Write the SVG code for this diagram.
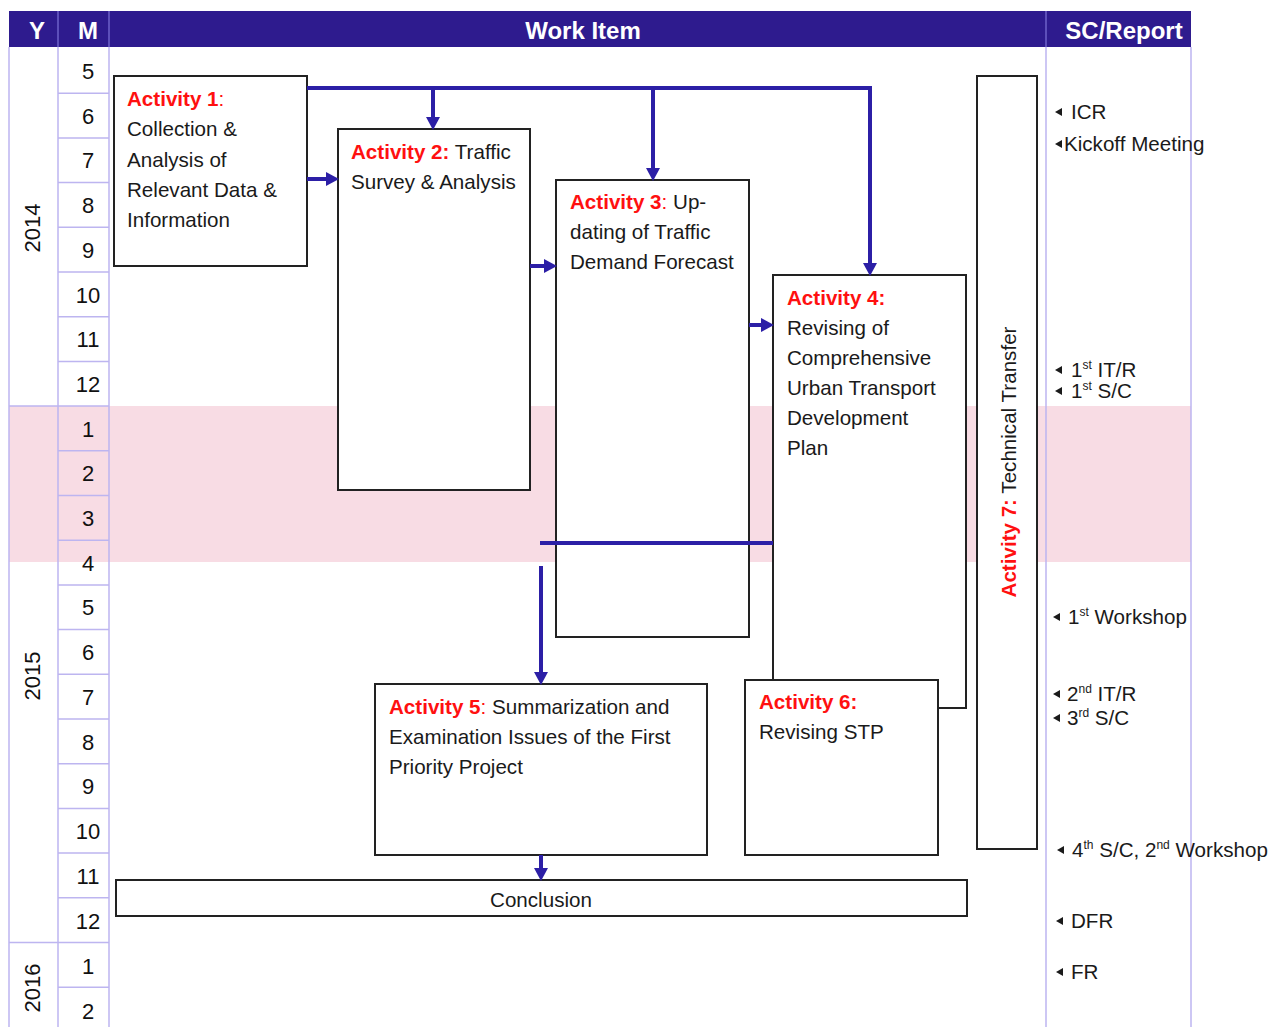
<svg xmlns="http://www.w3.org/2000/svg" width="1273" height="1027" viewBox="0 0 1273 1027">
<defs>
<style>
text{font-family:"Liberation Sans",Arial,sans-serif;}
.hd{fill:#fff;font-weight:bold;font-size:24px;text-anchor:middle;}
.mo{font-size:22px;fill:#111;text-anchor:middle;}
.yr{font-size:22px;fill:#111;text-anchor:middle;}
.grid{stroke:#BDB5F0;stroke-width:1.5;fill:none;}
.box{fill:#fff;stroke:#222;stroke-width:2;}
.t{font-size:20.6px;fill:#1a1a1a;}
.r{fill:#FF1010;font-weight:bold;}
.lab{font-size:20.6px;fill:#1a1a1a;}
.sup{font-size:12px;}
.tri{fill:#1a1a1a;}
.con{stroke:#2C1FA6;stroke-width:4;fill:none;}
</style>
<marker id="ah" markerUnits="userSpaceOnUse" markerWidth="14" markerHeight="16" refX="0" refY="8" orient="auto" viewBox="0 0 14 16">
<path d="M0,1 L13,8 L0,15 Z" fill="#2C1FA6"/>
</marker>
</defs>
<rect x="0" y="0" width="1273" height="1027" fill="#fff"/>
<!-- pink band -->
<rect x="9" y="406" width="1182" height="156" fill="#F8DCE4"/>
<!-- header -->
<g id="header">
<rect x="9" y="11" width="1182" height="36" fill="#2E1B8E"/>
<line x1="58" y1="11" x2="58" y2="47" stroke="#6E62C8" stroke-width="1.5"/>
<line x1="109" y1="11" x2="109" y2="47" stroke="#6E62C8" stroke-width="1.5"/>
<line x1="1046" y1="11" x2="1046" y2="47" stroke="#6E62C8" stroke-width="1.5"/>
<text class="hd" x="37" y="39">Y</text>
<text class="hd" x="88" y="39">M</text>
<text class="hd" x="583" y="39">Work Item</text>
<text class="hd" x="1124" y="39">SC/Report</text>
</g>
<!-- grid -->
<g id="grid" class="grid">
<line x1="9" y1="47" x2="9" y2="1027"/>
<line x1="58" y1="47" x2="58" y2="1027"/>
<line x1="109" y1="47" x2="109" y2="1027"/>
<line x1="1046" y1="47" x2="1046" y2="1027"/>
<line x1="1191" y1="47" x2="1191" y2="1027"/>
<line x1="9" y1="406" x2="109" y2="406"/>
<line x1="9" y1="942.5" x2="109" y2="942.5"/>
<path d="M58,93.2H109M58,137.9H109M58,182.6H109M58,227.3H109M58,272H109M58,316.7H109M58,361.4H109M58,450.8H109M58,495.5H109M58,540.2H109M58,584.9H109M58,629.6H109M58,674.3H109M58,719H109M58,763.7H109M58,808.4H109M58,853.1H109M58,897.8H109M58,987.2H109"/>
</g>
<g id="months">
<text class="mo" x="88" y="79">5</text>
<text class="mo" x="88" y="124">6</text>
<text class="mo" x="88" y="168">7</text>
<text class="mo" x="88" y="213">8</text>
<text class="mo" x="88" y="258">9</text>
<text class="mo" x="88" y="303">10</text>
<text class="mo" x="88" y="347">11</text>
<text class="mo" x="88" y="392">12</text>
<text class="mo" x="88" y="437">1</text>
<text class="mo" x="88" y="481">2</text>
<text class="mo" x="88" y="526">3</text>
<text class="mo" x="88" y="571">4</text>
<text class="mo" x="88" y="615">5</text>
<text class="mo" x="88" y="660">6</text>
<text class="mo" x="88" y="705">7</text>
<text class="mo" x="88" y="750">8</text>
<text class="mo" x="88" y="794">9</text>
<text class="mo" x="88" y="839">10</text>
<text class="mo" x="88" y="884">11</text>
<text class="mo" x="88" y="929">12</text>
<text class="mo" x="88" y="974">1</text>
<text class="mo" x="88" y="1019">2</text>
</g>
<g id="years">
<text class="yr" transform="translate(40,228) rotate(-90)">2014</text>
<text class="yr" transform="translate(40,676) rotate(-90)">2015</text>
<text class="yr" transform="translate(40,988) rotate(-90)">2016</text>
</g>
<!-- nodes -->
<g id="activity7">
<rect class="box" x="977" y="76" width="60" height="773"/>
<text class="t" text-anchor="middle" transform="translate(1016,462) rotate(-90)"><tspan class="r">Activity 7:</tspan> Technical Transfer</text>
</g>
<g id="activity1">
<rect class="box" x="114" y="76" width="193" height="190"/>
<text class="t" x="127" y="106"><tspan class="r">Activity 1</tspan><tspan fill="#FF1010">:</tspan></text>
<text class="t" x="127" y="136">Collection &amp;</text>
<text class="t" x="127" y="167">Analysis of</text>
<text class="t" x="127" y="197">Relevant Data &amp;</text>
<text class="t" x="127" y="227">Information</text>
</g>
<g id="activity2">
<rect class="box" x="338" y="129" width="192" height="361"/>
<text class="t" x="351" y="159"><tspan class="r">Activity 2:</tspan> Traffic</text>
<text class="t" x="351" y="189">Survey &amp; Analysis</text>
</g>
<g id="activity3">
<rect class="box" x="556" y="180" width="193" height="457"/>
<text class="t" x="570" y="209"><tspan class="r">Activity 3</tspan><tspan fill="#FF1010">:</tspan> Up-</text>
<text class="t" x="570" y="239">dating of Traffic</text>
<text class="t" x="570" y="269">Demand Forecast</text>
</g>
<g id="activity4">
<rect class="box" x="773" y="275" width="193" height="433"/>
<text class="t" x="787" y="305"><tspan class="r">Activity 4:</tspan></text>
<text class="t" x="787" y="335">Revising of</text>
<text class="t" x="787" y="365">Comprehensive</text>
<text class="t" x="787" y="395">Urban Transport</text>
<text class="t" x="787" y="425">Development</text>
<text class="t" x="787" y="455">Plan</text>
</g>
<g id="activity6">
<rect class="box" x="745" y="680" width="193" height="175"/>
<text class="t" x="759" y="709"><tspan class="r">Activity 6:</tspan></text>
<text class="t" x="759" y="739">Revising STP</text>
</g>
<g id="activity5">
<rect class="box" x="375" y="684" width="332" height="171"/>
<text class="t" x="389" y="714"><tspan class="r">Activity 5</tspan><tspan fill="#FF1010">:</tspan> Summarization and</text>
<text class="t" x="389" y="744">Examination Issues of the First</text>
<text class="t" x="389" y="774">Priority Project</text>
</g>
<g id="conclusion">
<rect class="box" x="116" y="880" width="851" height="36"/>
<text class="t" x="541" y="907" text-anchor="middle">Conclusion</text>
</g>
<!-- connectors -->
<g id="connectors">
<path class="con" d="M307,88 H870 V263" marker-end="url(#ah)"/>
<path class="con" d="M433,88 V117" marker-end="url(#ah)"/>
<path class="con" d="M653,88 V168" marker-end="url(#ah)"/>
<path class="con" d="M307,179 H326" marker-end="url(#ah)"/>
<path class="con" d="M530,266 H544" marker-end="url(#ah)"/>
<path class="con" d="M749,325 H761" marker-end="url(#ah)"/>
<path class="con" d="M540,543 H773"/>
<path class="con" d="M541,566 V672" marker-end="url(#ah)"/>
<path class="con" d="M541,855 V868" marker-end="url(#ah)"/>
</g>
<!-- SC / Report -->
<g id="reports">
<path class="tri" d="M1062,108 L1055,112 L1062,116 Z"/>
<text class="lab" x="1071" y="119">ICR</text>
<path class="tri" d="M1062,140 L1055,144 L1062,148 Z"/>
<text class="lab" x="1064" y="151">Kickoff Meeting</text>
<path class="tri" d="M1062,366 L1055,370 L1062,374 Z"/>
<text class="lab" x="1071" y="377">1<tspan class="sup" dy="-8">st</tspan><tspan dy="8"> IT/R</tspan></text>
<path class="tri" d="M1062,387 L1055,391 L1062,395 Z"/>
<text class="lab" x="1071" y="398">1<tspan class="sup" dy="-8">st</tspan><tspan dy="8"> S/C</tspan></text>
<path class="tri" d="M1060,613 L1053,617 L1060,621 Z"/>
<text class="lab" x="1068" y="624">1<tspan class="sup" dy="-8">st</tspan><tspan dy="8"> Workshop</tspan></text>
<path class="tri" d="M1060,690 L1053,694 L1060,698 Z"/>
<text class="lab" x="1067" y="701">2<tspan class="sup" dy="-8">nd</tspan><tspan dy="8"> IT/R</tspan></text>
<path class="tri" d="M1060,714 L1053,718 L1060,722 Z"/>
<text class="lab" x="1067" y="725">3<tspan class="sup" dy="-8">rd</tspan><tspan dy="8"> S/C</tspan></text>
<path class="tri" d="M1064,846 L1057,850 L1064,854 Z"/>
<text class="lab" x="1072" y="857">4<tspan class="sup" dy="-8">th</tspan><tspan dy="8"> S/C, 2</tspan><tspan class="sup" dy="-8">nd</tspan><tspan dy="8"> Workshop</tspan></text>
<path class="tri" d="M1063,917 L1056,921 L1063,925 Z"/>
<text class="lab" x="1071" y="928">DFR</text>
<path class="tri" d="M1063,968 L1056,972 L1063,976 Z"/>
<text class="lab" x="1071" y="979">FR</text>
</g>
</svg>
